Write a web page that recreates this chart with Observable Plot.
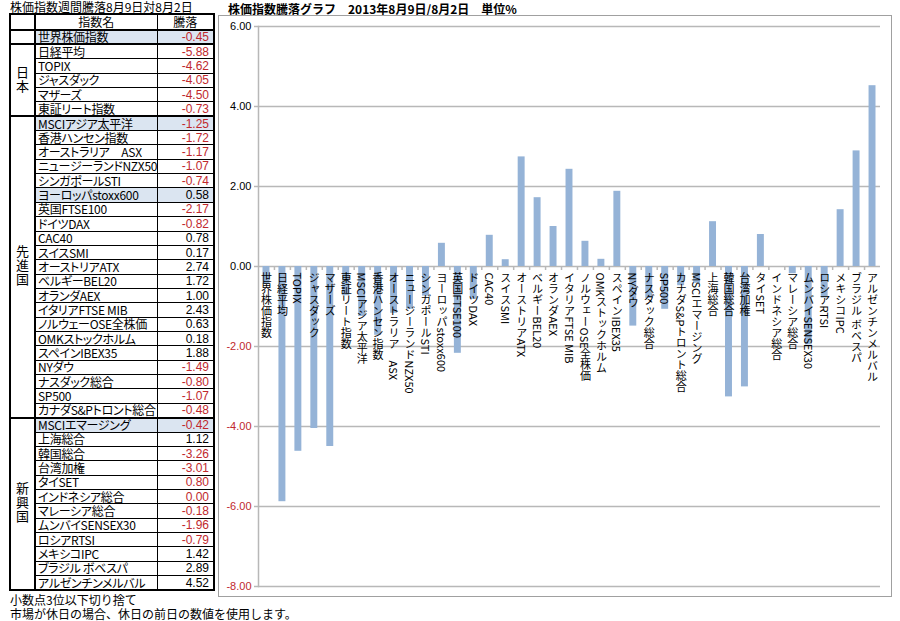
<!DOCTYPE html>
<html><head><meta charset="utf-8">
<script src="https://cdn.jsdelivr.net/npm/d3@7"></script>
<script src="https://cdn.jsdelivr.net/npm/@observablehq/plot@0.6"></script>
<style>
body{margin:0;background:#fff;font-family:"Noto Sans CJK JP","Liberation Sans",sans-serif;width:900px;height:621px;position:relative;overflow:hidden;color:#000}
#ttitle{position:absolute;left:10px;top:1px;font-size:12px;line-height:12px;white-space:nowrap}
#ctitle{position:absolute;left:228px;top:2px;font-size:12px;line-height:13px;font-weight:bold;white-space:nowrap}
#tbl{position:absolute;left:9px;top:13px;width:204px;border-collapse:collapse;border:2px solid #000;font-size:12px;table-layout:fixed;font-feature-settings:"palt"}
#tbl td,#tbl th{padding:0;line-height:12px;border:1px solid #000;white-space:nowrap;font-weight:normal}
#tbl tr{height:14.36px}
#tbl tr.head{height:16px}
#tbl td.grp{border-right:2px solid #000;text-align:center;vertical-align:middle}
#tbl td.grp div{writing-mode:vertical-rl;text-orientation:upright;font-size:13px;line-height:13px;display:inline-block;letter-spacing:1px}
#tbl td.nm{padding-left:2px;border-right:1.5px solid #000;letter-spacing:-0.3px}
#tbl td.val{text-align:right;padding-right:4px;font-family:"Liberation Sans",Arial,sans-serif}
#tbl tr.gstart td{border-top:2px solid #000}
#tbl .hl{background:#dbe5f1}
#foot{position:absolute;left:10px;top:593px;font-size:12px;line-height:14px;white-space:nowrap}
#frame{position:absolute;left:218px;top:15px;width:674px;height:582px;border:1px solid #a0a0a0;box-sizing:border-box}
#chart{position:absolute;left:218px;top:15px}
</style></head>
<body>
<div id="ttitle">株価指数週間騰落8月9日対8月2日</div>
<div id="ctitle">株価指数騰落グラフ　2013年8月9日/8月2日　単位%</div>
<table id="tbl"></table>
<div id="foot">小数点3位以下切り捨て<br>市場が休日の場合、休日の前日の数値を使用します。</div>
<div id="frame"></div>
<div id="chart"></div>
<script>
// ---- data ----
const groupNames = ["", "日本", "先進国", "新興国"];
const groupSizes = [1, 5, 21, 12];
const names = [
  "世界株価指数",
  "日経平均","TOPIX","ジャスダック","マザーズ","東証リート指数",
  "MSCIアジア太平洋","香港ハンセン指数","オーストラリア　ASX","ニュージーランドNZX50","シンガポールSTI",
  "ヨーロッパstoxx600","英国FTSE100","ドイツDAX","CAC40","スイスSMI","オーストリアATX","ベルギーBEL20",
  "オランダAEX","イタリアFTSE MIB","ノルウェーOSE全株価","OMKストックホルム","スペインIBEX35",
  "NYダウ","ナスダック総合","SP500","カナダS&Pトロント総合",
  "MSCIエマージング","上海総合","韓国総合","台湾加権","タイSET","インドネシア総合","マレーシア総合",
  "ムンバイSENSEX30","ロシアRTSI","メキシコIPC","ブラジル ボベスパ","アルゼンチンメルバル"
];
const values = [
  -0.45,
  -5.88, -4.62, -4.05, -4.50, -0.73,
  -1.25, -1.72, -1.17, -1.07, -0.74,
  0.58, -2.17, -0.82, 0.78, 0.17, 2.74, 1.72,
  1.00, 2.43, 0.63, 0.18, 1.88,
  -1.49, -0.80, -1.07, -0.48,
  -0.42, 1.12, -3.26, -3.01, 0.80, 0.00, -0.18,
  -1.96, -0.79, 1.42, 2.89, 4.52
];
const highlighted = ["世界株価指数","MSCIアジア太平洋","ヨーロッパstoxx600","MSCIエマージング"];
const redInTable = ["タイSET","インドネシア総合"]; // shown red in the source table despite value >= 0
const yTicks = [-8, -6, -4, -2, 0, 2, 4, 6];

const RED = "#c0282d";
const BAR = "#95b3d7";
const GRID = "#b8b8b8";

// ---- table ----
const tbl = document.getElementById("tbl");
tbl.innerHTML = '<colgroup><col style="width:25px"><col style="width:122px"><col style="width:57px"></colgroup>' +
  '<tr class="head"><td class="grp"></td><th class="nm" style="text-align:center;letter-spacing:0">指数名</th><th class="val" style="text-align:center;font-family:inherit;padding:0">騰落</th></tr>';
let idx = 0;
groupNames.forEach((g, gi) => {
  for (let k = 0; k < groupSizes[gi]; k++) {
    const n = names[idx], v = values[idx];
    const tr = document.createElement("tr");
    if (k === 0) tr.className = "gstart";
    let html = "";
    if (k === 0) html += `<td class="grp" rowspan="${groupSizes[gi]}"><div>${g}</div></td>`;
    const hl = highlighted.includes(n) ? " hl" : "";
    const red = (v < 0 || redInTable.includes(n));
    html += `<td class="nm${hl}">${n}</td><td class="val${hl}" style="color:${red ? RED : "#000"}">${v.toFixed(2)}</td>`;
    tr.innerHTML = html;
    tbl.appendChild(tr);
    idx++;
  }
});

// ---- chart ----
const rows = names.map((n, i) => ({name: n, value: values[i]}));
const W = 674, H = 582, ML = 40, MR = 12;
const step = (W - ML - MR) / names.length;

const chart = Plot.plot({
  width: W, height: H,
  marginTop: 11, marginBottom: 11, marginLeft: ML, marginRight: MR,
  style: {fontFamily: "'Liberation Sans', Arial, sans-serif", fontSize: "11px", background: "transparent", overflow: "visible"},
  x: {domain: names, padding: 0, axis: null},
  y: {domain: [-8, 6], axis: null},
  marks: [
    Plot.ruleY(yTicks, {stroke: GRID, strokeWidth: 1.5}),
    Plot.axisY({ticks: yTicks, label: null, tickSize: 4, tickPadding: 3, tickFormat: d => d.toFixed(2), stroke: GRID, strokeWidth: 1.5, fontSize: 11}),
    Plot.frame({anchor: "left", stroke: GRID, strokeWidth: 1.5}),
    Plot.ruleX(names.slice(0, -1), {x: d => d, y1: 0, y2: -0.1, dx: step / 2, stroke: GRID, strokeWidth: 1.5}),
    Plot.barY(rows, {x: "name", y: "value", fill: BAR, insetLeft: 4.5, insetRight: 4.5}),
    Plot.text(rows, {x: "name", y: 0, text: "name", fill: "#000", fontSize: 11, fontFamily: "'Noto Sans CJK JP', sans-serif", textAnchor: "start"})
  ]
});
document.getElementById("chart").appendChild(chart);

const nameSet = new Set(names);
d3.select(chart).selectAll("text").each(function() {
  const el = d3.select(this);
  const t = this.textContent.trim();
  if (/^[-−]\d/.test(t)) el.attr("fill", RED);
  if (nameSet.has(this.textContent)) {
    el.attr("dy", null).attr("y", 6)
      .attr("writing-mode", "tb")
      .attr("text-anchor", "start")
      .attr("style", "writing-mode: vertical-rl; text-orientation: mixed; font-feature-settings: 'palt'");
  }
});
</script>
</body></html>
